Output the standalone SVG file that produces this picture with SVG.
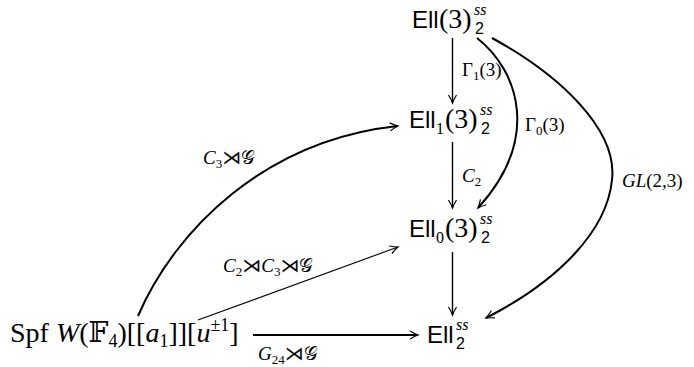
<svg xmlns="http://www.w3.org/2000/svg" width="694" height="367" viewBox="0 0 694 367">
<style>
.bg{fill:#fff}
.ss{font-family:"Liberation Sans","DejaVu Sans",sans-serif;fill:#000}
.sr{font-family:"Liberation Serif","DejaVu Serif","DejaVu Sans",serif;fill:#000}
.it{font-style:italic}
.node{font-size:24px}
.m{font-size:28px}
.sup{font-size:16px}
.lab{font-size:19px}
.sub{font-size:13px}
.c{fill:none;stroke:#000}
.thin{stroke-width:1.1}
.mid{stroke-width:1.4}
.thick{stroke-width:2}
</style>
<defs>
<marker id="ah" viewBox="-10 -6 12 12" refX="0" refY="0" markerWidth="12" markerHeight="12" markerUnits="userSpaceOnUse" orient="auto">
<path d="M-8,-4 Q-3,-1 0,0 Q-3,1 -8,4" fill="none" stroke="#000" stroke-width="1.2"/>
</marker>
</defs>
<rect class="bg" width="694" height="367"/>

<g id="n-ell3">
<text class="ss node" x="412" y="28">Ell</text>
<text class="sr m" x="439" y="28">(3)</text>
<text class="sr it sup" x="474" y="15">ss</text>
<text class="ss sup" x="475" y="34">2</text>
</g>

<g id="n-ell1">
<text class="ss node" x="409" y="128">Ell</text>
<text class="sr sup" x="436" y="134">1</text>
<text class="sr m" x="445" y="128">(3)</text>
<text class="sr it sup" x="480" y="115">ss</text>
<text class="ss sup" x="481" y="134">2</text>
</g>

<g id="n-ell0">
<text class="ss node" x="409" y="237">Ell</text>
<text class="sr sup" x="436" y="243">0</text>
<text class="sr m" x="445" y="237">(3)</text>
<text class="sr it sup" x="480" y="224">ss</text>
<text class="ss sup" x="481" y="243">2</text>
</g>

<g id="n-ell">
<text class="ss node" x="427" y="343">Ell</text>
<text class="sr it sup" x="456" y="330">ss</text>
<text class="ss sup" x="456" y="349">2</text>
</g>

<g id="n-spf">
<text class="sr m" x="10" y="342">Spf <tspan class="it">W</tspan>(𝔽<tspan font-size="18" dy="5">4</tspan><tspan dy="-5">)[[</tspan><tspan class="it">a</tspan><tspan font-size="18" dy="5">1</tspan><tspan dy="-5">]][</tspan><tspan class="it">u</tspan><tspan font-size="18" dy="-11">±1</tspan><tspan dy="11">]</tspan></text>
</g>

<g id="connectors">
<line class="c mid" x1="452.5" y1="38" x2="452.5" y2="103" marker-end="url(#ah)"/>
<line class="c mid" x1="452.5" y1="142" x2="452.5" y2="208" marker-end="url(#ah)"/>
<line class="c mid" x1="452.5" y1="252" x2="452.5" y2="315" marker-end="url(#ah)"/>
<path class="c thick" d="M477,38 C520,72 540,140 478,208" marker-end="url(#ah)"/>
<path class="c thick" d="M492,38 C560,75 618,130 612,180 C607,230 560,280 486,318" marker-end="url(#ah)"/>
<path class="c thick" d="M138,316 C175,230 265,140 398,126" marker-end="url(#ah)"/>
<line class="c thin" x1="198" y1="320" x2="398" y2="247" marker-end="url(#ah)"/>
<line class="c thick" x1="253" y1="335" x2="418" y2="335" marker-end="url(#ah)"/>
</g>

<g id="labels">
<text class="sr lab" x="462" y="76">Γ<tspan class="sub" dy="4">1</tspan><tspan dy="-4">(3)</tspan></text>
<text class="sr lab" x="525" y="131">Γ<tspan class="sub" dy="4">0</tspan><tspan dy="-4">(3)</tspan></text>
<text class="sr lab" x="462" y="182"><tspan class="it">C</tspan><tspan class="sub" dy="4">2</tspan></text>
<text class="sr lab" x="622" y="187"><tspan class="it">GL</tspan>(2,3)</text>
<text class="sr lab" x="203" y="164"><tspan class="it">C</tspan><tspan class="sub" dy="4">3</tspan><tspan dy="-4">⋊𝒢</tspan></text>
<text class="sr lab" x="223" y="272"><tspan class="it">C</tspan><tspan class="sub" dy="4">2</tspan><tspan dy="-4">⋊</tspan><tspan class="it">C</tspan><tspan class="sub" dy="4">3</tspan><tspan dy="-4">⋊𝒢</tspan></text>
<text class="sr lab" x="258" y="360"><tspan class="it">G</tspan><tspan class="sub" dy="4">24</tspan><tspan dy="-4">⋊𝒢</tspan></text>
</g>
</svg>
